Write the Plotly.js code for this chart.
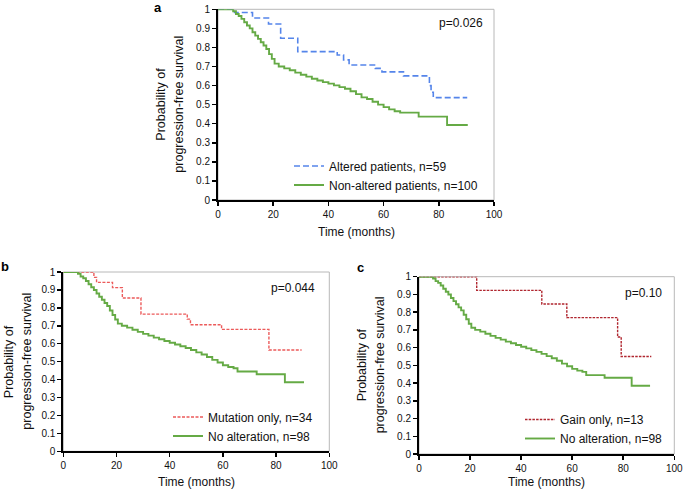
<!DOCTYPE html>
<html>
<head>
<meta charset="utf-8">
<script src="https://cdn.plot.ly/plotly-3.0.1.min.js"></script>
<style>html,body{margin:0;padding:0;background:#fff;}#chart{width:685px;height:493px;}</style>
</head>
<body>
<div id="chart"></div>
<script>
// ---- data (time in months, survival probability) ----
const alteredT = [0, 6, 12.5, 18.3, 22.7, 28.9, 43.2, 45.5, 47.5, 57, 59.4, 67.2, 76.6, 77.2, 78, 90.3];
const alteredS = [1, 0.983, 0.954, 0.923, 0.848, 0.778, 0.76, 0.735, 0.708, 0.69, 0.672, 0.651, 0.60, 0.565, 0.537, 0.537];

const nonAlteredT = [0, 5.5, 6.5, 7.5, 8.5, 9.5, 10.5, 11.5, 12.5, 13.5, 14.5, 15.5, 16.5, 17.5, 18.5, 19.5, 20.5, 22, 24, 26, 28, 30, 32, 34, 36, 38, 40, 42, 44, 46, 48, 50, 52, 54, 56, 58, 60, 62, 64, 66, 72.7, 83, 90.5];
const nonAlteredS = [1, 0.99, 0.975, 0.965, 0.95, 0.932, 0.915, 0.9, 0.88, 0.862, 0.845, 0.827, 0.81, 0.792, 0.765, 0.74, 0.715, 0.70, 0.69, 0.68, 0.668, 0.657, 0.647, 0.636, 0.627, 0.618, 0.61, 0.601, 0.592, 0.583, 0.57, 0.555, 0.538, 0.53, 0.515, 0.5, 0.487, 0.475, 0.465, 0.458, 0.437, 0.393, 0.393];

const noAltT = [0, 5.5, 6.5, 7.5, 8.5, 9.5, 10.5, 11.5, 12.5, 13.5, 14.5, 15.5, 16.5, 17.5, 18.5, 19.5, 20.5, 22, 24, 26, 28, 30, 32, 34, 36, 38, 40, 42, 44, 46, 48, 50, 52, 54, 56, 58, 60, 62, 64, 65.5, 72.7, 83.3, 90.5];
const noAltS = [1, 0.99, 0.975, 0.965, 0.95, 0.932, 0.915, 0.9, 0.88, 0.862, 0.845, 0.827, 0.81, 0.785, 0.76, 0.735, 0.712, 0.70, 0.69, 0.678, 0.666, 0.655, 0.645, 0.634, 0.625, 0.615, 0.605, 0.596, 0.586, 0.576, 0.565, 0.552, 0.54, 0.526, 0.51, 0.495, 0.48, 0.47, 0.463, 0.445, 0.43, 0.385, 0.385];

const mutationT = [0, 11.5, 12.5, 18.5, 22.2, 29.2, 46.6, 47.8, 59.5, 77.3, 89.6];
const mutationS = [1, 0.97, 0.942, 0.913, 0.855, 0.765, 0.737, 0.706, 0.68, 0.565, 0.565];

const gainT = [0, 22.6, 48.1, 57.9, 77.8, 79.2, 91];
const gainS = [1, 0.923, 0.846, 0.769, 0.66, 0.55, 0.55];

const names = {
  altered: 'Altered patients, n=59',
  nonAltered: 'Non-altered patients, n=100',
  mutation: 'Mutation only, n=34',
  gain: 'Gain only, n=13',
  noAlt: 'No alteration, n=98'
};
const pValues = ['p=0.026', 'p=0.044', 'p=0.10'];
const panelLabels = ['a', 'b', 'c'];
const xTickVals = [0, 20, 40, 60, 80, 100];
const xTickText = ['0', '20', '40', '60', '80', '100'];
const yTickVals = [0, 0.1, 0.2, 0.3, 0.4, 0.5, 0.6, 0.7, 0.8, 0.9, 1];
const yTickText = ['0', '0.1', '0.2', '0.3', '0.4', '0.5', '0.6', '0.7', '0.8', '0.9', '1'];
const xTitle = 'Time (months)';
const yTitle1 = 'Probability of';
const yTitle2 = 'progression-free survival';

// ---- styling / layout ----
const W = 685, H = 493;
const FONT = 'Liberation Sans, Arial, sans-serif';
const px = v => v / W;
const py = v => 1 - v / H;
const BLUE = '#5585ea', GREEN = '#65aa45', RED = '#ec5a5a', DRED = '#b0262f';

// panel pixel boxes [left, right, top, bottom]
const boxes = [
  [218, 494, 9.3, 200],
  [63.3, 329.3, 272, 451.3],
  [419, 674.3, 276.7, 454]
];

function stepTrace(t, s, name, color, dash, width, xa, ya, legend) {
  return {x: t, y: s, type: 'scatter', mode: 'lines', name: name,
    line: {color: color, dash: dash, width: width, shape: 'hv'},
    xaxis: xa, yaxis: ya, legend: legend, hoverinfo: 'skip'};
}

const data = [
  stepTrace(alteredT, alteredS, names.altered, BLUE, '6px,3px', 1.6, 'x', 'y', 'legend'),
  stepTrace(nonAlteredT, nonAlteredS, names.nonAltered, GREEN, 'solid', 1.9, 'x', 'y', 'legend'),
  stepTrace(mutationT, mutationS, names.mutation, RED, '3px,1.5px', 1.4, 'x2', 'y2', 'legend2'),
  stepTrace(noAltT, noAltS, names.noAlt, GREEN, 'solid', 1.9, 'x2', 'y2', 'legend2'),
  stepTrace(gainT, gainS, names.gain, DRED, '2.5px,1.2px', 1.4, 'x3', 'y3', 'legend3'),
  stepTrace(noAltT, noAltS, names.noAlt, GREEN, 'solid', 1.9, 'x3', 'y3', 'legend3')
];

const layout = {
  width: W, height: H,
  margin: {l: 0, r: 0, t: 0, b: 0},
  paper_bgcolor: '#fff', plot_bgcolor: '#fff',
  font: {family: FONT, size: 12, color: '#111'},
  showlegend: true,
  annotations: [], shapes: []
};

const suffix = ['', '2', '3'];
const ovX = ['4', '5', '6'];
const legendPos = [[289, 151.5], [168, 402.5], [520, 405]];
const legendKeys = ['legend', 'legend2', 'legend3'];
const pPos = [[437, 23], [269, 288], [623, 293]];
const labelPos = [[158, 7], [5, 266], [361, 267]];
const ytPos = [[161, 179], [8.5, 27], [362, 380]];
const xtY = [232, 482, 482];

boxes.forEach((b, i) => {
  const s = suffix[i];
  const xd = [px(b[0]), px(b[1])];
  const yd = [py(b[3]), py(b[2])];
  const common = {showgrid: false, zeroline: false, fixedrange: true};
  layout['xaxis' + s] = Object.assign({}, common, {
    domain: xd, range: [0, 100], anchor: 'y' + s,
    tickmode: 'array', tickvals: xTickVals, ticktext: xTickText,
    ticks: 'outside', ticklen: 4, tickwidth: 1.5, tickcolor: '#000',
    showline: true, linecolor: '#000', linewidth: 2,
    tickfont: {size: 10, family: FONT, color: '#111'}
  });
  layout['yaxis' + s] = Object.assign({}, common, {
    domain: yd, range: [0, 1], anchor: 'x' + s,
    tickmode: 'array', tickvals: yTickVals, ticktext: yTickText,
    ticks: 'outside', ticklen: 4, tickwidth: 1.5, tickcolor: '#000',
    showline: true, linecolor: '#000', linewidth: 2,
    tickfont: {size: 10, family: FONT, color: '#111'}
  });
  // overlay axes to give crossing ticks
  layout['xaxis' + ovX[i]] = Object.assign({}, common, {
    domain: xd, range: [0, 100], anchor: 'y' + s, overlaying: 'x' + s,
    tickmode: 'array', tickvals: xTickVals, showticklabels: false,
    ticks: 'inside', ticklen: 4, tickwidth: 1.5, tickcolor: '#000', showline: false
  });
  layout['yaxis' + ovX[i]] = Object.assign({}, common, {
    domain: yd, range: [0, 1], anchor: 'x' + s, overlaying: 'y' + s,
    tickmode: 'array', tickvals: yTickVals, showticklabels: false,
    ticks: 'inside', ticklen: 4, tickwidth: 1.5, tickcolor: '#000', showline: false
  });
  // light frame
  layout.shapes.push({type: 'rect', xref: 'x' + s + ' domain', yref: 'y' + s + ' domain',
    x0: 0, x1: 1, y0: 0, y1: 1, line: {color: '#b8b8b8', width: 1}, layer: 'below'});
  // legend
  layout[legendKeys[i]] = {x: px(legendPos[i][0]), y: py(legendPos[i][1]), xanchor: 'left', yanchor: 'top',
    bgcolor: 'rgba(0,0,0,0)', borderwidth: 0, itemwidth: 30, tracegroupgap: 0,
    font: {size: 12, family: FONT, color: '#111'}};
  // p-value
  layout.annotations.push({text: pValues[i], xref: 'paper', yref: 'paper', x: px(pPos[i][0]), y: py(pPos[i][1]),
    xanchor: 'left', yanchor: 'middle', showarrow: false, font: {size: 12, family: FONT, color: '#111'}});
  // panel label
  layout.annotations.push({text: '<b>' + panelLabels[i] + '</b>', xref: 'paper', yref: 'paper',
    x: px(labelPos[i][0]), y: py(labelPos[i][1]), xanchor: 'center', yanchor: 'middle', showarrow: false,
    font: {size: 13, family: FONT, color: '#000'}});
  // y title (two lines)
  const yc = py((b[2] + b[3]) / 2);
  layout.annotations.push({text: yTitle1, xref: 'paper', yref: 'paper', x: px(ytPos[i][0]), y: yc,
    xanchor: 'center', yanchor: 'middle', textangle: -90, showarrow: false, font: {size: 12.5, family: FONT, color: '#111'}});
  layout.annotations.push({text: yTitle2, xref: 'paper', yref: 'paper', x: px(ytPos[i][1]), y: yc,
    xanchor: 'center', yanchor: 'middle', textangle: -90, showarrow: false, font: {size: 12.5, family: FONT, color: '#111'}});
  // x title
  layout.annotations.push({text: xTitle, xref: 'paper', yref: 'paper', x: px((b[0] + b[1]) / 2), y: py(xtY[i]),
    xanchor: 'center', yanchor: 'middle', showarrow: false, font: {size: 12, family: FONT, color: '#111'}});
});

Plotly.newPlot('chart', data, layout, {displayModeBar: false, staticPlot: true});
</script>
</body>
</html>
